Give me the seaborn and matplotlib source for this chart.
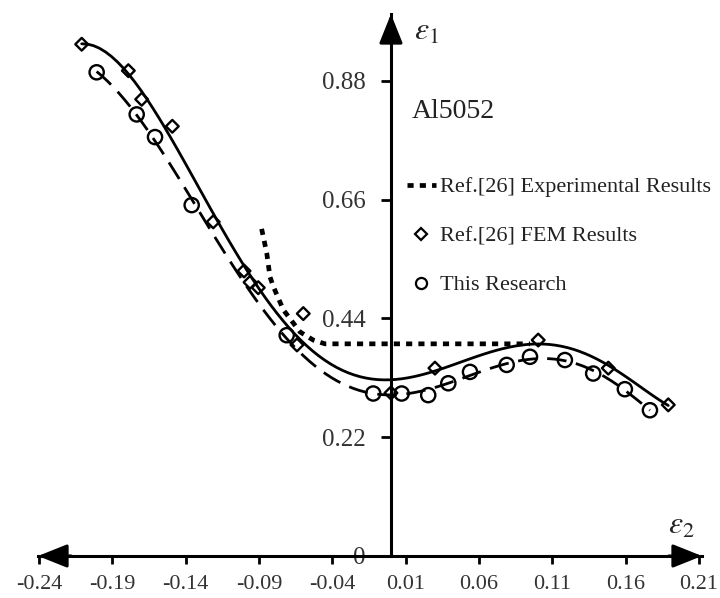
import numpy as np
import pandas as pd
import seaborn as sns
import matplotlib.pyplot as plt
from matplotlib.lines import Line2D

# values
fem_x = [-0.2109, -0.1791, -0.1700, -0.1491, -0.1212, -0.1002, -0.0961, -0.0905,
         -0.0641, -0.0598, 0.0000, 0.0300, 0.1004, 0.1482, 0.1891]
fem_y = [0.948, 0.899, 0.846, 0.796, 0.619, 0.528, 0.507, 0.497,
         0.391, 0.449, 0.302, 0.348, 0.400, 0.348, 0.280]

this_x = [-0.2007, -0.1734, -0.1609, -0.1359, -0.0711, -0.0121, 0.0073, 0.0254,
          0.0391, 0.0539, 0.0789, 0.0948, 0.1186, 0.1379, 0.1595, 0.1766]
this_y = [0.896, 0.818, 0.776, 0.650, 0.409, 0.301, 0.301, 0.298,
          0.320, 0.341, 0.354, 0.369, 0.363, 0.338, 0.309, 0.270]

exp_x = [-0.0882, -0.0847, -0.0825, -0.0802, -0.0734, -0.0620, -0.0530, -0.0450, 0.0948]
exp_y = [0.606, 0.561, 0.517, 0.499, 0.456, 0.415, 0.400, 0.393, 0.393]

xtick_pos = [-0.24, -0.19, -0.14, -0.09, -0.04, 0.01, 0.06, 0.11, 0.16, 0.21]
xtick_labels = ['-0.24', '-0.19', '-0.14', '-0.09', '-0.04', '0.01', '0.06', '0.11', '0.16', '0.21']
xminor_pos = [-0.215, -0.165, -0.115, -0.065, -0.015, 0.035, 0.085, 0.135, 0.185]
ytick_pos = [0, 0.22, 0.44, 0.66, 0.88]
ytick_labels = ['0', '0.22', '0.44', '0.66', '0.88']

fem = pd.DataFrame({'e2': fem_x, 'e1': fem_y})
ours = pd.DataFrame({'e2': this_x, 'e1': this_y})
exp = pd.DataFrame({'e2': exp_x, 'e1': exp_y})

sns.set_theme(style='white')
plt.rcParams['font.family'] = ['Liberation Serif', 'DejaVu Serif']
plt.rcParams['mathtext.fontset'] = 'stix'

fig = plt.figure(figsize=(7.2, 5.98), dpi=100)
ax = fig.add_axes([38/720, 42/598, 664/720, 542/598])

# trend lines (polynomial fits, like the spreadsheet trendlines)
sns.regplot(data=fem, x='e2', y='e1', order=6, ci=None, scatter=False, ax=ax,
            line_kws=dict(color='black', lw=2.0))
sns.regplot(data=ours, x='e2', y='e1', order=6, ci=None, scatter=False, ax=ax,
            line_kws=dict(color='black', lw=2.0, dashes=(7, 3.5)))
sns.lineplot(data=exp, x='e2', y='e1', ax=ax, color='black', lw=3.4,
             dashes=False, linestyle=(0, (1.3, 1.3)))

sns.scatterplot(data=fem, x='e2', y='e1', marker='D', s=42, facecolor='none',
                edgecolor='black', linewidth=1.7, ax=ax, zorder=4)
sns.scatterplot(data=ours, x='e2', y='e1', marker='o', s=105, facecolor='none',
                edgecolor='black', linewidth=1.7, ax=ax, zorder=4)

ax.set_xlim(-0.2407, 0.2121)
ax.set_ylim(0, 1.004)

for s in ['top', 'right']:
    ax.spines[s].set_visible(False)
ax.spines['left'].set_position(('data', 0))
ax.spines['left'].set_linewidth(2.2)
ax.spines['bottom'].set_linewidth(2.2)
ax.spines['left'].set_color('black')
ax.spines['bottom'].set_color('black')

ax.set_xticks(xtick_pos)
ax.set_xticklabels(xtick_labels)
ax.set_xticks(xminor_pos, minor=True)
ax.set_yticks(ytick_pos)
ax.set_yticklabels(ytick_labels)
ax.tick_params(axis='x', which='both', direction='out', length=6, width=2,
               color='black', labelsize=16, pad=8, labelcolor='#333333')
ax.tick_params(axis='y', which='major', direction='out', length=7, width=2,
               color='black', labelsize=18, pad=11, labelcolor='#333333')
ax.tick_params(left=True, bottom=True)
ax.set_xlabel('')
ax.set_ylabel('')
ax.grid(False)

# axis arrows
arrow = dict(arrowstyle='-|>,head_length=1.5,head_width=0.6', color='black',
             lw=2.2, shrinkA=0, shrinkB=0)
ax.annotate('', xy=(1, 0), xycoords='axes fraction', xytext=(0.95, 0),
            arrowprops=arrow, annotation_clip=False)
ax.annotate('', xy=(0, 0), xycoords='axes fraction', xytext=(0.05, 0),
            arrowprops=arrow, annotation_clip=False)
ax.annotate('', xy=(0, 1), xycoords=('data', 'axes fraction'), xytext=(0, 0.95),
            arrowprops=arrow, annotation_clip=False)

ax.text(0.016, 0.97, r'$\varepsilon_1$', fontsize=23, ha='left', va='center')
ax.text(0.189, 0.055, r'$\varepsilon_2$', fontsize=23, ha='left', va='center')
ax.text(0.0141, 0.824, 'Al5052', fontsize=20, ha='left', va='center', color='#222222')

handles = [
    Line2D([], [], color='black', lw=3.4, linestyle=(0, (1.3, 1.3))),
    Line2D([], [], color='black', lw=0, marker='D', ms=6, mfc='none', mew=1.6),
    Line2D([], [], color='black', lw=0, marker='o', ms=8, mfc='none', mew=1.6),
]
labels = ['Ref.[26] Experimental Results', 'Ref.[26] FEM Results', 'This Research']
leg = ax.legend(handles, labels, loc='upper left', bbox_to_anchor=(0.5557, 0.6995),
                frameon=False, fontsize=16, handlelength=1.3, handletextpad=0.2,
                borderpad=0, borderaxespad=0, labelspacing=1.28)
for t in leg.get_texts():
    t.set_color('#222222')

fig.savefig('out.png', dpi=100)
